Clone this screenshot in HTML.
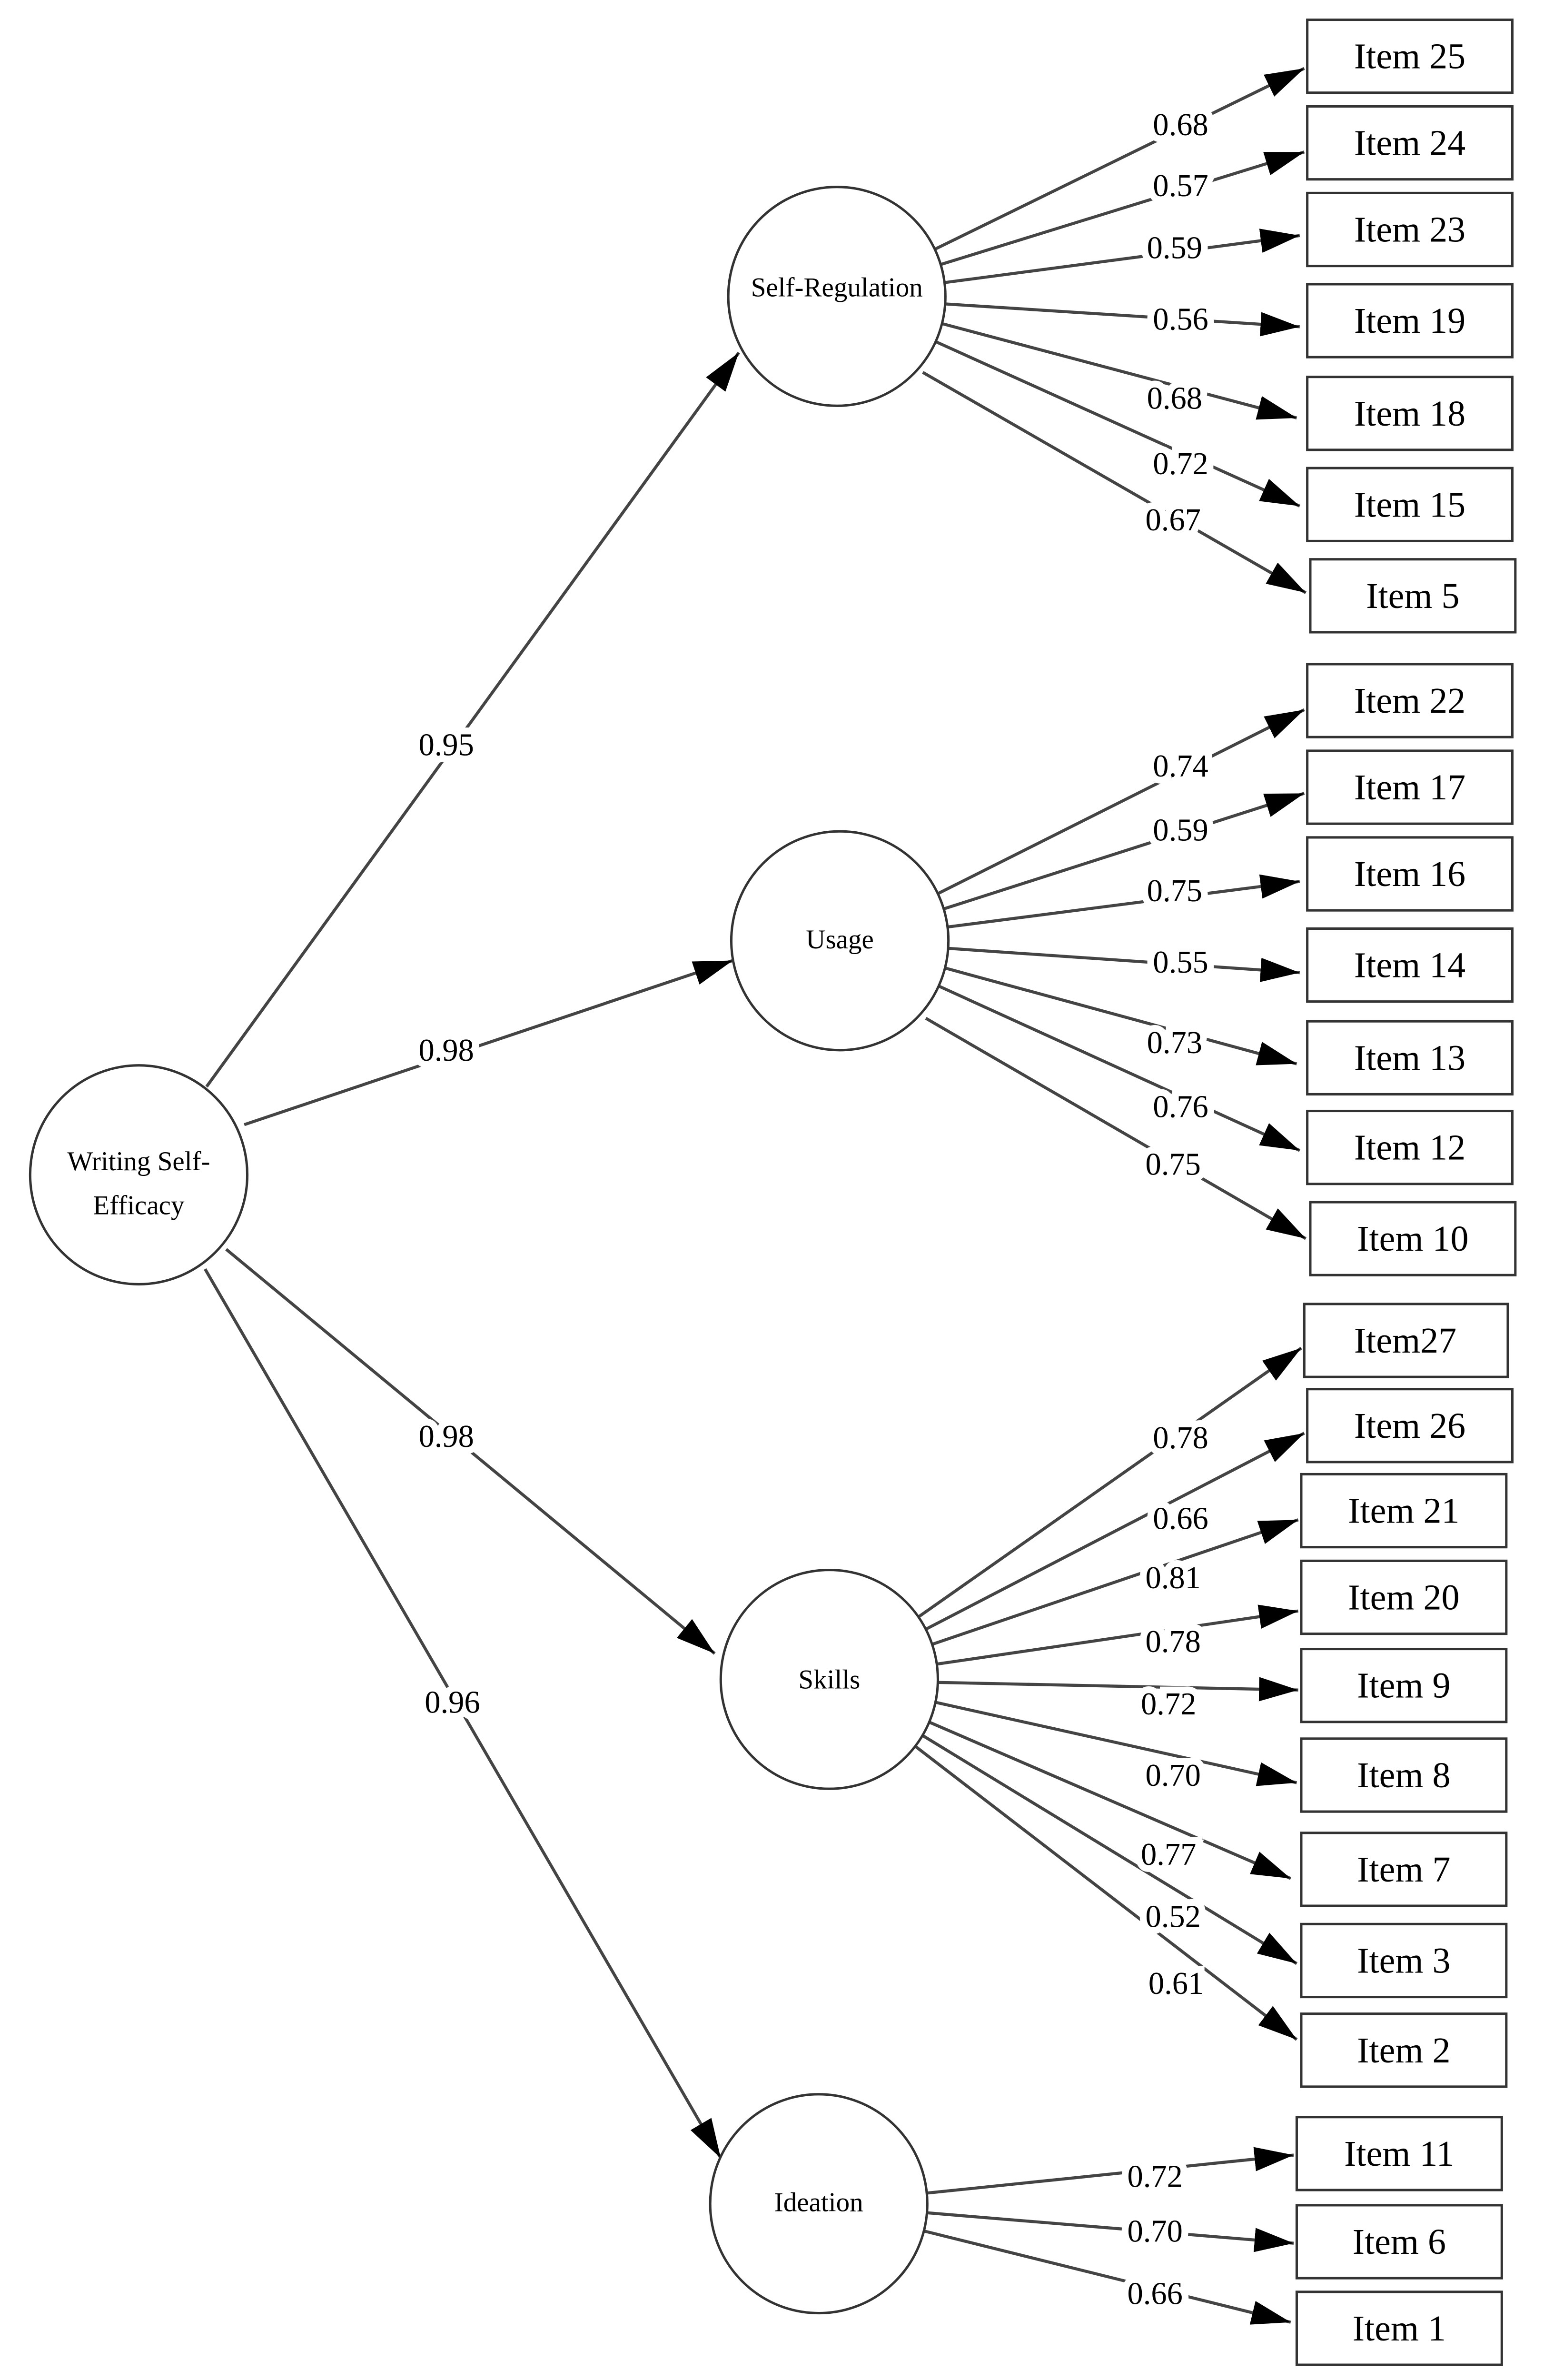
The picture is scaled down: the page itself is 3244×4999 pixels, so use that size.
<!DOCTYPE html>
<html><head><meta charset="utf-8"><style>
html,body{margin:0;padding:0;background:#fff;}
svg{display:block;}
text{font-family:"Liberation Serif",serif;fill:#000;}
.lab{font-size:21px;text-anchor:middle;paint-order:stroke;stroke:#fff;stroke-width:9px;}
.box{font-size:24px;text-anchor:middle;}
.cir{font-size:18px;text-anchor:middle;}
line{stroke:#444;stroke-width:2;}
rect{fill:#fff;stroke:#333;stroke-width:1.6;}
circle{fill:#fff;stroke:#333;stroke-width:1.6;}
</style></head><body>
<svg width="3244" height="4999" viewBox="0 0 1024 1566" preserveAspectRatio="none" xmlns="http://www.w3.org/2000/svg">
<defs><marker id="a" markerUnits="userSpaceOnUse" markerWidth="28" markerHeight="18" refX="26" refY="8" orient="auto"><path d="M0,0 L26,8 L0,16 Z" fill="#000"/></marker></defs>
<g marker-end="url(#a)">
<line x1="137" y1="715" x2="490" y2="232"/>
<line x1="162" y1="740" x2="486" y2="632"/>
<line x1="150" y1="822" x2="474" y2="1088"/>
<line x1="136" y1="835" x2="478" y2="1420"/>
<line x1="620" y1="164" x2="865" y2="45"/>
<line x1="624" y1="174" x2="865" y2="100"/>
<line x1="626" y1="186" x2="862" y2="155"/>
<line x1="627" y1="200" x2="862" y2="215"/>
<line x1="625" y1="213" x2="860" y2="275"/>
<line x1="621" y1="225" x2="862" y2="333"/>
<line x1="612" y1="245" x2="866" y2="390"/>
<line x1="622" y1="588" x2="865" y2="467"/>
<line x1="626" y1="598" x2="865" y2="522"/>
<line x1="628" y1="610" x2="862" y2="580"/>
<line x1="629" y1="624" x2="862" y2="640"/>
<line x1="627" y1="637" x2="860" y2="700"/>
<line x1="623" y1="649" x2="862" y2="757"/>
<line x1="614" y1="670" x2="866" y2="815"/>
<line x1="609" y1="1064" x2="863" y2="887"/>
<line x1="614" y1="1072" x2="865" y2="943"/>
<line x1="618" y1="1082" x2="861" y2="1000"/>
<line x1="621" y1="1095" x2="861" y2="1060"/>
<line x1="622" y1="1107" x2="861" y2="1112"/>
<line x1="620" y1="1120" x2="860" y2="1173"/>
<line x1="616" y1="1133" x2="856" y2="1236"/>
<line x1="612" y1="1142" x2="860" y2="1292"/>
<line x1="607" y1="1149" x2="860" y2="1342"/>
<line x1="615" y1="1443" x2="858" y2="1418"/>
<line x1="615" y1="1456" x2="858" y2="1476"/>
<line x1="613" y1="1468" x2="856" y2="1528"/>
</g>
<circle cx="92" cy="773" r="72"/>
<circle cx="555" cy="195" r="72"/>
<circle cx="557" cy="619" r="72"/>
<circle cx="550" cy="1105" r="72"/>
<circle cx="543" cy="1450" r="72"/>
<text class="cir" x="92" y="770">Writing Self-</text>
<text class="cir" x="92" y="799">Efficacy</text>
<text class="cir" x="555" y="195">Self-Regulation</text>
<text class="cir" x="557" y="624">Usage</text>
<text class="cir" x="550" y="1111">Skills</text>
<text class="cir" x="543" y="1455">Ideation</text>
<g class="labs">
<text class="lab" x="296" y="497">0.95</text>
<text class="lab" x="296" y="698">0.98</text>
<text class="lab" x="296" y="952">0.98</text>
<text class="lab" x="300" y="1127">0.96</text>
<text class="lab" x="783" y="89">0.68</text>
<text class="lab" x="783" y="129">0.57</text>
<text class="lab" x="779" y="170">0.59</text>
<text class="lab" x="783" y="217">0.56</text>
<text class="lab" x="779" y="269">0.68</text>
<text class="lab" x="783" y="312">0.72</text>
<text class="lab" x="778" y="349">0.67</text>
<text class="lab" x="783" y="511">0.74</text>
<text class="lab" x="783" y="553">0.59</text>
<text class="lab" x="779" y="593">0.75</text>
<text class="lab" x="783" y="640">0.55</text>
<text class="lab" x="779" y="693">0.73</text>
<text class="lab" x="783" y="735">0.76</text>
<text class="lab" x="778" y="773">0.75</text>
<text class="lab" x="783" y="953">0.78</text>
<text class="lab" x="783" y="1006">0.66</text>
<text class="lab" x="778" y="1045">0.81</text>
<text class="lab" x="778" y="1087">0.78</text>
<text class="lab" x="775" y="1128">0.72</text>
<text class="lab" x="778" y="1175">0.70</text>
<text class="lab" x="775" y="1227">0.77</text>
<text class="lab" x="778" y="1268">0.52</text>
<text class="lab" x="780" y="1312">0.61</text>
<text class="lab" x="766" y="1439">0.72</text>
<text class="lab" x="766" y="1475">0.70</text>
<text class="lab" x="766" y="1516">0.66</text>
</g>
<g>
<rect x="867" y="13" width="136" height="48"/><text class="box" x="935" y="45">Item 25</text>
<rect x="867" y="70" width="136" height="48"/><text class="box" x="935" y="102">Item 24</text>
<rect x="867" y="127" width="136" height="48"/><text class="box" x="935" y="159">Item 23</text>
<rect x="867" y="187" width="136" height="48"/><text class="box" x="935" y="219">Item 19</text>
<rect x="867" y="248" width="136" height="48"/><text class="box" x="935" y="280">Item 18</text>
<rect x="867" y="308" width="136" height="48"/><text class="box" x="935" y="340">Item 15</text>
<rect x="869" y="368" width="136" height="48"/><text class="box" x="937" y="400">Item 5</text>
<rect x="867" y="437" width="136" height="48"/><text class="box" x="935" y="469">Item 22</text>
<rect x="867" y="494" width="136" height="48"/><text class="box" x="935" y="526">Item 17</text>
<rect x="867" y="551" width="136" height="48"/><text class="box" x="935" y="583">Item 16</text>
<rect x="867" y="611" width="136" height="48"/><text class="box" x="935" y="643">Item 14</text>
<rect x="867" y="672" width="136" height="48"/><text class="box" x="935" y="704">Item 13</text>
<rect x="867" y="731" width="136" height="48"/><text class="box" x="935" y="763">Item 12</text>
<rect x="869" y="791" width="136" height="48"/><text class="box" x="937" y="823">Item 10</text>
<rect x="865" y="858" width="135" height="48"/><text class="box" x="932" y="890">Item27</text>
<rect x="867" y="914" width="136" height="48"/><text class="box" x="935" y="946">Item 26</text>
<rect x="863" y="970" width="136" height="48"/><text class="box" x="931" y="1002">Item 21</text>
<rect x="863" y="1027" width="136" height="48"/><text class="box" x="931" y="1059">Item 20</text>
<rect x="863" y="1085" width="136" height="48"/><text class="box" x="931" y="1117">Item 9</text>
<rect x="863" y="1144" width="136" height="48"/><text class="box" x="931" y="1176">Item 8</text>
<rect x="863" y="1206" width="136" height="48"/><text class="box" x="931" y="1238">Item 7</text>
<rect x="863" y="1266" width="136" height="48"/><text class="box" x="931" y="1298">Item 3</text>
<rect x="863" y="1325" width="136" height="48"/><text class="box" x="931" y="1357">Item 2</text>
<rect x="860" y="1393" width="136" height="48"/><text class="box" x="928" y="1425">Item 11</text>
<rect x="860" y="1451" width="136" height="48"/><text class="box" x="928" y="1483">Item 6</text>
<rect x="860" y="1508" width="136" height="48"/><text class="box" x="928" y="1540">Item 1</text>
</g>
</svg>
</body></html>
